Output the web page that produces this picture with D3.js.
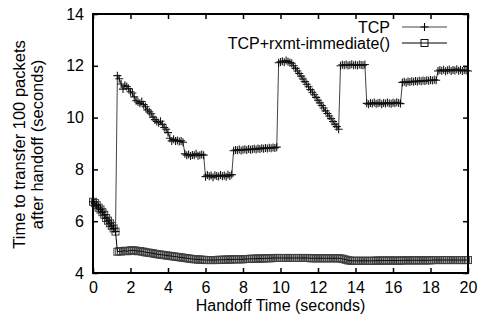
<!DOCTYPE html>
<html>
<head>
<meta charset="utf-8">
<script src="https://cdn.jsdelivr.net/npm/d3@7"></script>
<style>
  html, body { margin: 0; padding: 0; background: #fff; }
  svg { display: block; }
  text { font-family: "Liberation Sans", Arial, Helvetica, sans-serif; fill: #000; }
</style>
</head>
<body>
<svg id="chart" width="486" height="323"></svg>
<script>
// Handoff times sampled every 0.1 s from 0 to 20 s
const handoffTimes = d3.range(201).map(i => i / 10);

// Transfer time for 100 packets after handoff, plain TCP
const tcpValues = [
  6.75, 6.70, 6.62, 6.52, 6.45, 6.35, 6.25, 6.12, 6.02, 5.92, 5.82, 5.72, 5.60,
  11.62, 11.50, 11.30, 11.10, 11.25, 11.20, 11.12, 11.00, 10.95, 10.80, 10.65, 10.60,
  10.55, 10.62, 10.50, 10.42, 10.30, 10.22, 10.15, 10.02, 9.92, 9.85, 9.80, 9.86,
  9.74, 9.62, 9.55, 9.42, 9.20, 9.10, 9.16, 9.10, 9.12, 9.08, 9.10, 9.05,
  8.60, 8.55, 8.58, 8.52, 8.56, 8.55, 8.60, 8.53, 8.55, 8.58, 8.55,
  7.72, 7.78, 7.74, 7.76, 7.70, 7.77, 7.75, 7.73, 7.78, 7.74, 7.76, 7.72, 7.79, 7.75, 7.80,
  8.72, 8.75, 8.74, 8.77, 8.73, 8.76, 8.78, 8.75, 8.79, 8.76, 8.78, 8.80,
  8.77, 8.81, 8.79, 8.82, 8.80, 8.83, 8.81, 8.84, 8.82, 8.85, 8.83, 8.86,
  12.12, 12.15, 12.18, 12.14, 12.20, 12.16, 12.13, 12.10,
  12.00, 11.90, 11.80, 11.70, 11.60, 11.49, 11.39, 11.29, 11.19, 11.08, 10.98, 10.88, 10.78,
  10.67, 10.57, 10.47, 10.37, 10.26, 10.16, 10.06, 9.96, 9.85, 9.75, 9.65, 9.55,
  12.00, 12.04, 12.02, 12.05, 12.01, 12.03, 12.06, 12.02, 12.04, 12.01, 12.05, 12.03, 12.02, 12.05,
  10.55, 10.52, 10.56, 10.54, 10.58, 10.53, 10.55, 10.57, 10.52, 10.56,
  10.54, 10.58, 10.55, 10.53, 10.57, 10.55, 10.59, 10.56, 10.54,
  11.36, 11.38, 11.35, 11.39, 11.37, 11.40, 11.38, 11.41, 11.39, 11.42,
  11.40, 11.43, 11.41, 11.44, 11.42, 11.45, 11.43, 11.46, 11.44,
  11.80, 11.84, 11.81, 11.85, 11.79, 11.83, 11.86, 11.80, 11.84,
  11.82, 11.87, 11.81, 11.85, 11.80, 11.84, 11.82, 11.80
];

// Transfer time with TCP+rxmt-immediate()
const rxmtValues = [
  6.75, 6.70, 6.62, 6.52, 6.45, 6.35, 6.25, 6.12, 6.02, 5.92, 5.82, 5.72, 5.60,
  4.82, 4.84, 4.83, 4.85, 4.86, 4.84, 4.85, 4.87, 4.88, 4.87, 4.86, 4.84, 4.85, 4.83, 4.82, 4.80, 4.79, 4.78,
  4.77, 4.76, 4.74, 4.73, 4.72, 4.71, 4.70, 4.69, 4.68, 4.67,
  4.66, 4.65, 4.64, 4.63, 4.62, 4.61, 4.60, 4.59, 4.58, 4.57,
  4.56, 4.55, 4.54, 4.53, 4.53, 4.52, 4.52, 4.51, 4.51, 4.50,
  4.50, 4.50, 4.50, 4.50, 4.50, 4.50, 4.51, 4.51, 4.51, 4.51,
  4.52, 4.52, 4.52, 4.52, 4.53, 4.53, 4.53, 4.53, 4.53, 4.53,
  4.54, 4.54, 4.54, 4.55, 4.55, 4.55, 4.55, 4.56, 4.56, 4.56,
  4.56, 4.57, 4.57, 4.57, 4.57, 4.58, 4.58, 4.58, 4.58, 4.58,
  4.58, 4.58, 4.58, 4.58, 4.58, 4.58, 4.58, 4.58, 4.58, 4.58, 4.58, 4.58, 4.58, 4.58, 4.58,
  4.57, 4.57, 4.57, 4.57, 4.57, 4.57, 4.57, 4.57, 4.57, 4.57, 4.57, 4.57, 4.57, 4.57, 4.57,
  4.57, 4.56, 4.55, 4.53, 4.51, 4.49, 4.48, 4.47, 4.47, 4.47,
  4.47, 4.47, 4.47, 4.47, 4.47, 4.47, 4.47, 4.47, 4.47, 4.47,
  4.48, 4.48, 4.48, 4.48, 4.48, 4.48, 4.48, 4.48, 4.48, 4.48, 4.48, 4.48, 4.48, 4.48, 4.48,
  4.49, 4.49, 4.49, 4.49, 4.49, 4.49, 4.49, 4.49, 4.49, 4.49, 4.49, 4.49, 4.49, 4.49, 4.49,
  4.50, 4.50, 4.50, 4.50, 4.50, 4.50, 4.50, 4.50, 4.50, 4.50,
  4.50, 4.50, 4.50, 4.50, 4.50, 4.50, 4.50, 4.50, 4.50, 4.50
];

const xTicks = [0, 2, 4, 6, 8, 10, 12, 14, 16, 18, 20];
const yTicks = [4, 6, 8, 10, 12, 14];
const seriesNames = ["TCP", "TCP+rxmt-immediate()"];
const xTitle = "Handoff Time (seconds)";
const yTitleLines = ["Time to transfer 100 packets", "after handoff (seconds)"];

const svg = d3.select("#chart");
const plot = { left: 93, right: 468, top: 14, bottom: 273 };

const x = d3.scaleLinear().domain([0, 20]).range([plot.left, plot.right]);
const y = d3.scaleLinear().domain([4, 14]).range([plot.bottom, plot.top]);

const fontSize = 16;

// Axes with inward ticks, mirrored on top and right
function styleAxis(g) {
  g.select(".domain").remove();
  g.selectAll(".tick line").attr("stroke", "#000").attr("stroke-width", 1.5);
  g.selectAll(".tick text").attr("font-size", fontSize).attr("font-family", null);
}

svg.append("g")
  .attr("transform", `translate(0,${plot.bottom})`)
  .call(d3.axisBottom(x).tickValues(xTicks).tickSizeInner(-5).tickSizeOuter(0).tickPadding(9))
  .call(styleAxis);

svg.append("g")
  .attr("transform", `translate(0,${plot.top})`)
  .call(d3.axisTop(x).tickValues(xTicks).tickSizeInner(-5).tickSizeOuter(0).tickFormat(""))
  .call(styleAxis);

svg.append("g")
  .attr("transform", `translate(${plot.left},0)`)
  .call(d3.axisLeft(y).tickValues(yTicks).tickSizeInner(-5).tickSizeOuter(0).tickPadding(9))
  .call(styleAxis);

svg.append("g")
  .attr("transform", `translate(${plot.right},0)`)
  .call(d3.axisRight(y).tickValues(yTicks).tickSizeInner(-5).tickSizeOuter(0).tickFormat(""))
  .call(styleAxis);

// Plot border
svg.append("rect")
  .attr("x", plot.left).attr("y", plot.top)
  .attr("width", plot.right - plot.left).attr("height", plot.bottom - plot.top)
  .attr("fill", "none").attr("stroke", "#000").attr("stroke-width", 2);

// Axis titles
svg.append("text")
  .attr("x", (plot.left + plot.right) / 2).attr("y", 311)
  .attr("text-anchor", "middle").attr("font-size", fontSize)
  .text(xTitle);

const yTitle = svg.append("text")
  .attr("transform", `translate(0,${(plot.top + plot.bottom) / 2 + 1}) rotate(-90)`)
  .attr("text-anchor", "middle").attr("font-size", 16.5);
yTitle.append("tspan").attr("x", 0).attr("y", 25).text(yTitleLines[0]);
yTitle.append("tspan").attr("x", 0).attr("y", 43).text(yTitleLines[1]);

// Series
const tcpData = handoffTimes.map((t, i) => ({ t, v: tcpValues[i] }));
const rxmtData = handoffTimes.map((t, i) => ({ t, v: rxmtValues[i] }));

const line = d3.line().x(d => x(d.t)).y(d => y(d.v));

const dataLayer = svg.append("g");

const plusSize = 4;
const squareSize = 3.5;

function drawPlus(g, cx, cy) {
  g.append("path")
    .attr("d", `M${cx - plusSize},${cy}H${cx + plusSize}M${cx},${cy - plusSize}V${cy + plusSize}`)
    .attr("stroke", "#000").attr("stroke-width", 1.1).attr("fill", "none");
}
function drawSquare(g, cx, cy) {
  g.append("rect")
    .attr("x", cx - squareSize).attr("y", cy - squareSize)
    .attr("width", 2 * squareSize).attr("height", 2 * squareSize)
    .attr("stroke", "#111").attr("stroke-width", 1).attr("fill", "none");
}

// TCP+rxmt-immediate() line and square markers
dataLayer.append("path").datum(rxmtData)
  .attr("d", line).attr("fill", "none").attr("stroke", "#000").attr("stroke-width", 1);
const sqG = dataLayer.append("g").attr("opacity", 0.8);
rxmtData.forEach(d => drawSquare(sqG, x(d.t), y(d.v)));

// TCP line and plus markers
dataLayer.append("path").datum(tcpData)
  .attr("d", line).attr("fill", "none").attr("stroke", "#444").attr("stroke-width", 1);
const plG = dataLayer.append("g").attr("opacity", 0.9);
tcpData.forEach(d => drawPlus(plG, x(d.t), y(d.v)));

// Legend
const legend = svg.append("g");
const legendRows = [27, 43];
seriesNames.forEach((name, i) => {
  const ly = legendRows[i];
  legend.append("text")
    .attr("x", 390).attr("y", ly).attr("dy", "0.35em")
    .attr("text-anchor", "end").attr("font-size", fontSize)
    .text(name);
  legend.append("line")
    .attr("x1", 402).attr("x2", 447).attr("y1", ly).attr("y2", ly)
    .attr("stroke", i === 0 ? "#444" : "#000").attr("stroke-width", 1);
  if (i === 0) drawPlus(legend, 424.5, ly);
  else drawSquare(legend, 424.5, ly);
});
</script>
</body>
</html>
